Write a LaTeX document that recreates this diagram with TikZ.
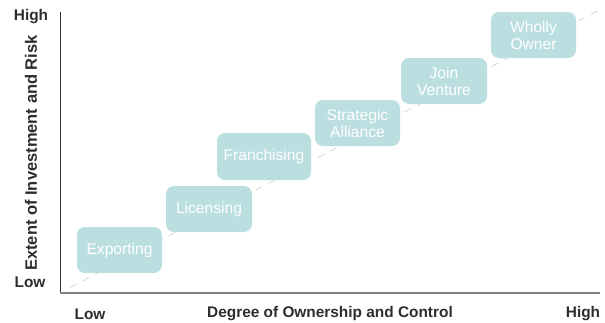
\documentclass[tikz,border=0pt]{standalone}
\usepackage{fontspec}
\setmainfont{Liberation Sans}
\definecolor{boxfill}{RGB}{187,222,224}
\definecolor{labelc}{RGB}{45,45,45}
\definecolor{xaxisc}{RGB}{130,130,130}
\definecolor{yaxisc}{RGB}{50,50,50}
\definecolor{dashc}{RGB}{200,200,200}
\begin{document}
\begin{tikzpicture}[x=1pt,y=-1pt,
  modebox/.style={fill=boxfill,rounded corners=8pt,minimum width=85pt,minimum height=46pt,
    inner sep=2pt,text=white,align=center,font=\fontsize{15.6}{17}\selectfont},
  axlabel/.style={text=labelc,font=\fontsize{15.4}{17}\selectfont\bfseries,inner sep=0pt}]
\useasboundingbox (0,0) rectangle (605,322);
\coordinate (o) at (60,293);
\coordinate (ytop) at (60,12);
\coordinate (xend) at (600,293);
\coordinate (ds) at (70,287.5);
\coordinate (de) at (603,8);
\draw[dashc,line width=0.6pt,dash pattern=on 7pt off 7pt] (ds) -- (de);
\draw[yaxisc,line width=1pt] (ytop) -- (o);
\draw[xaxisc,line width=1.8pt] (o) -- (xend);
\node[modebox] (exp) at (119.5,250) {Exporting};
\node[modebox,minimum width=86pt] (lic) at (209,209) {Licensing};
\node[modebox,minimum width=94pt,minimum height=47pt] (fra) at (264,156.5) {Franchising};
\node[modebox] (sa) at (357.5,123) {Strategic\\Alliance};
\node[modebox,minimum width=86pt] (jv) at (444,81) {Join\\Venture};
\node[modebox] (wo) at (533.5,35) {Wholly\\Owner};
\node[axlabel] (yhigh) at (31,17) {High};
\node[axlabel] (ylow) at (30,282) {Low};
\node[axlabel,rotate=90,font=\fontsize{16.5}{17}\selectfont\bfseries] (ylab) at (31,153) {Extent of Investment and Risk};
\node[axlabel] (xlow) at (90,314) {Low};
\node[axlabel] (xlab) at (330,314) {Degree of Ownership and Control};
\node[axlabel] (xhigh) at (583,314) {High};
\end{tikzpicture}
\end{document}
